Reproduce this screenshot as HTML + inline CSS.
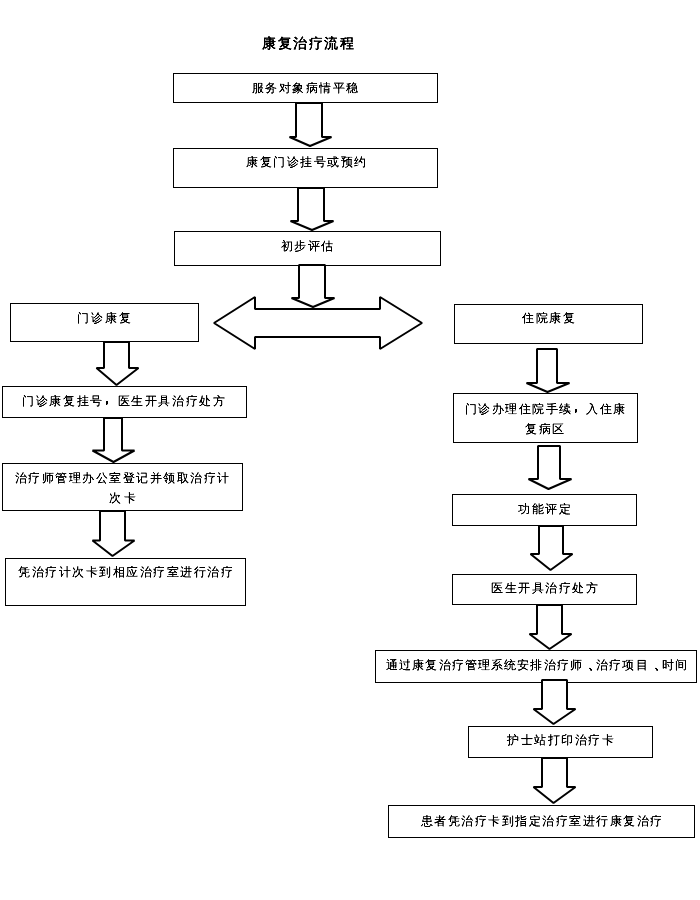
<!DOCTYPE html>
<html><head><meta charset="utf-8"><style>
html,body{margin:0;padding:0;background:#fff;width:700px;height:900px;overflow:hidden}
body{position:relative;font-family:"Liberation Sans",sans-serif;color:#000}
svg{position:absolute;left:0;top:0}
.t{position:absolute;will-change:transform;background:#fff;filter:contrast(1.7);font-weight:500;-webkit-text-stroke:0.2px #000;font-size:12px;line-height:16px;white-space:nowrap}
.cm{position:relative;left:-3px;top:-2px;font-weight:700}
.dn{position:relative;left:5px;font-weight:700}
.title{position:absolute;will-change:transform;background:#fff;filter:contrast(1.5);font-size:14px;font-weight:bold;line-height:18px;white-space:nowrap}
</style></head><body>
<svg width="700" height="900" viewBox="0 0 700 900">
<g fill="#fff" stroke="#000" stroke-width="1" shape-rendering="crispEdges">
<rect x="173.5" y="73.5" width="264" height="29"/>
<rect x="173.5" y="148.5" width="264" height="39"/>
<rect x="174.5" y="231.5" width="266" height="34"/>
<rect x="10.5" y="303.5" width="188" height="38"/>
<rect x="454.5" y="304.5" width="188" height="39"/>
<rect x="2.5" y="386.5" width="244" height="31"/>
<rect x="2.5" y="463.5" width="240" height="47"/>
<rect x="5.5" y="558.5" width="240" height="47"/>
<rect x="453.5" y="393.5" width="184" height="49"/>
<rect x="452.5" y="494.5" width="184" height="31"/>
<rect x="452.5" y="574.5" width="184" height="30"/>
<rect x="375.5" y="650.5" width="321" height="32"/>
<rect x="468.5" y="726.5" width="184" height="31"/>
<rect x="388.5" y="805.5" width="306" height="32"/>
</g>
<g fill="#fff" stroke="#000" stroke-width="2" stroke-linejoin="bevel">
<polygon points="296,103 296,137 289.5,137 310,146 331.5,137 322,137 322,103"/>
<polygon points="298,188 298,221 290.5,221 312,230 333.5,221 324,221 324,188"/>
<polygon points="299,265 299,298 291.5,298 313,307 334.5,298 325,298 325,265"/>
<polygon points="104,342 104,368 96.5,368 116.5,385 138.5,368 129,368 129,342"/>
<polygon points="104,418 104,450.5 92.5,450.5 113.5,462 134.5,450.5 122,450.5 122,418"/>
<polygon points="100,511 100,540.5 92.5,540.5 112.5,556 134.5,540.5 125,540.5 125,511"/>
<polygon points="537,349 537,383 526.5,383 547.5,392 569.5,383 557,383 557,349"/>
<polygon points="538,446 538,479 528.5,479 548.5,489 571.5,479 560,479 560,446"/>
<polygon points="539,526 539,554 530.5,554 550.5,570 572.5,554 563,554 563,526"/>
<polygon points="537,605 537,634 529.5,634 549.5,649 571.5,634 562,634 562,605"/>
<polygon points="542,680 542,709 533.5,709 553.5,724 575.5,709 567,709 567,680"/>
<polygon points="542,758 542,787 533.5,787 553.5,803 575.5,787 567,787 567,758"/>
<polygon points="214,323 255,297 255,309 380,309 380,297 422,323 380,349 380,337 255,337 255,349"/>
</g>
</svg>
<div class="t" style="left:252.00px;top:80.00px;letter-spacing:1.429px">服务对象病情平稳</div>
<div class="t" style="left:246.00px;top:154.00px;letter-spacing:1.500px">康复门诊挂号或预约</div>
<div class="t" style="left:281.00px;top:238.00px;letter-spacing:1.333px">初步评估</div>
<div class="t" style="left:77.00px;top:310.00px;letter-spacing:2.000px">门诊康复</div>
<div class="t" style="left:522.00px;top:310.00px;letter-spacing:1.667px">住院康复</div>
<div class="t" style="left:22.00px;top:393.00px;letter-spacing:1.643px">门诊康复挂号<span class=cm>，</span>医生开具治疗处方</div>
<div class="t" style="left:15.00px;top:470.00px;letter-spacing:1.467px">治疗师管理办公室登记并领取治疗计</div>
<div class="t" style="left:109.00px;top:490.00px;letter-spacing:3.000px">次卡</div>
<div class="t" style="left:18.00px;top:564.00px;letter-spacing:1.533px">凭治疗计次卡到相应治疗室进行治疗</div>
<div class="t" style="left:465.00px;top:401.00px;letter-spacing:1.455px">门诊办理住院手续<span class=cm>，</span>入住康</div>
<div class="t" style="left:525.00px;top:421.00px;letter-spacing:1.500px">复病区</div>
<div class="t" style="left:518.00px;top:501.00px;letter-spacing:1.667px">功能评定</div>
<div class="t" style="left:491.00px;top:580.00px;letter-spacing:1.571px">医生开具治疗处方</div>
<div class="t" style="left:386.00px;top:657.00px;letter-spacing:1.136px">通过康复治疗管理系统安排治疗师<span class=dn>、</span>治疗项目<span class=dn>、</span>时间</div>
<div class="t" style="left:507.00px;top:732.00px;letter-spacing:1.571px">护士站打印治疗卡</div>
<div class="t" style="left:421.00px;top:813.00px;letter-spacing:1.471px">患者凭治疗卡到指定治疗室进行康复治疗</div>
<div class="title" style="left:262.00px;top:34.00px;letter-spacing:1.600px">康复治疗流程</div>
</body></html>
